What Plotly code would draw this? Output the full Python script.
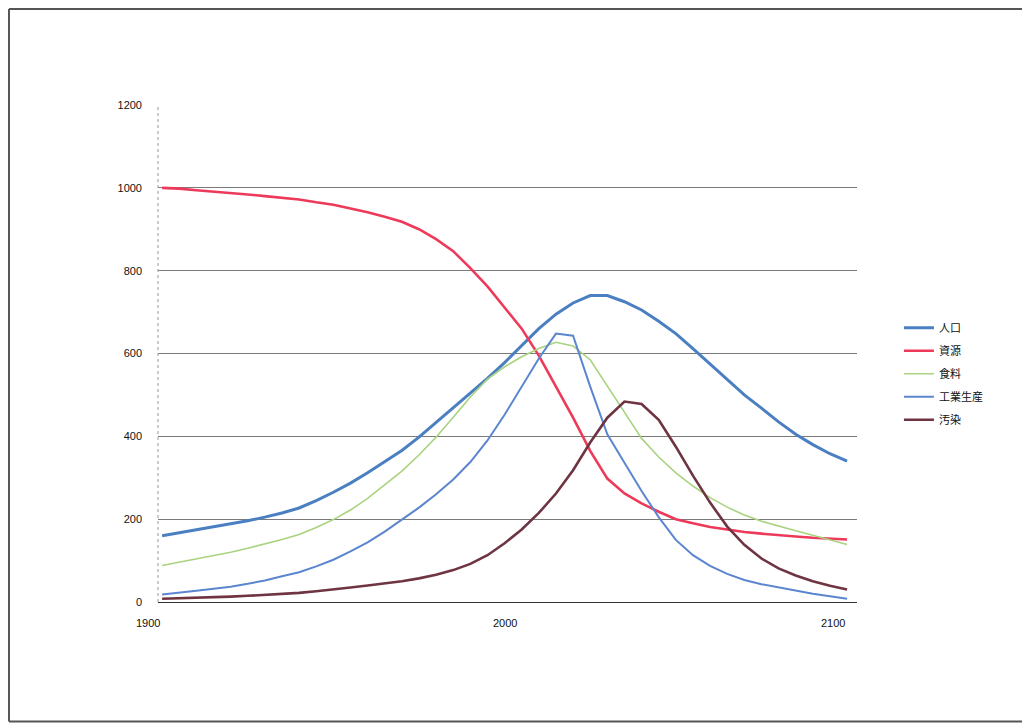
import plotly.graph_objects as go

years = list(range(1900, 2101, 5))

population = [160, 167, 174, 181, 188, 196, 205, 215, 227, 245, 265, 287, 312, 338, 366,
              398, 433, 470, 505, 540, 578, 618, 660, 695, 722, 740, 740, 725, 705, 678,
              648, 612, 575, 537, 500, 468, 435, 405, 380, 358, 340]
resources = [1000, 998, 994, 991, 988, 984, 980, 976, 972, 965, 959, 950, 941, 930, 918,
             900, 876, 847, 806, 762, 712, 660, 595, 520, 445, 365, 298, 262, 238, 218,
             200, 190, 181, 175, 169, 165, 161, 158, 155, 153, 151]
food = [88, 96, 104, 112, 120, 130, 140, 151, 163, 180, 199, 222, 250, 283, 316,
        355, 398, 446, 495, 538, 568, 592, 612, 627, 618, 585, 522, 456, 395, 350,
        312, 280, 252, 229, 210, 195, 183, 172, 161, 150, 139]
industry = [18, 22, 27, 32, 37, 44, 52, 62, 72, 86, 102, 122, 144, 170, 198,
            228, 260, 296, 338, 390, 452, 520, 588, 648, 643, 520, 405, 336, 268, 205,
            150, 113, 87, 68, 53, 43, 35, 27, 20, 14, 8]
pollution = [8, 9, 10, 11, 13, 15, 17, 19, 22, 26, 30, 35, 40, 45, 50,
             57, 66, 77, 92, 113, 142, 175, 215, 262, 318, 385, 445, 484, 478, 440,
             375, 305, 240, 182, 138, 105, 81, 64, 50, 39, 30]

series_names = ["人口", "資源", "食料", "工業生産", "汚染"]
series_values = [population, resources, food, industry, pollution]
series_colors = ["#4a7fc1", "#ee3a5a", "#a9d37f", "#5b86cf", "#6e3442"]
series_widths = [3, 2.6, 1.6, 2, 2.6]

x_tick_labels = ["1900", "2000", "2100"]
x_tick_years = [1900, 2000, 2100]
x_tick_anchor = ["right", "center", "right"]
y_ticks = [0, 200, 400, 600, 800, 1000, 1200]

fig = go.Figure()
for name, vals, col, w in zip(series_names, series_values, series_colors, series_widths):
    fig.add_trace(go.Scatter(x=years, y=vals, mode="lines", name=name,
                             legendgroup=name,
                             line=dict(color=col, width=w)))

font_main = "Liberation Sans, Arial, sans-serif"
font_cjk = "Noto Sans CJK JP, sans-serif"

fig.update_layout(
    width=1030, height=725,
    margin=dict(l=150, r=181, t=97, b=131),
    paper_bgcolor="white", plot_bgcolor="white",
    showlegend=True,
    legend=dict(x=1.060, y=0.581, xanchor="left", yanchor="top",
                font=dict(family=font_cjk, size=11, color="#111"),
                tracegroupgap=4, bgcolor="rgba(0,0,0,0)"),
    xaxis=dict(range=[1898.8, 2102.9], showgrid=False, zeroline=False,
               showticklabels=False, showline=False, fixedrange=True),
    yaxis=dict(range=[0, 1200], tickvals=y_ticks, showgrid=True,
               gridcolor="#7a7a7a", gridwidth=1, zeroline=True,
               zerolinecolor="#333", zerolinewidth=1.2,
               tickfont=dict(family=font_main, size=11, color="#111"),
               ticks="", ticklabelstandoff=15, showline=False),
)

for lab, yr, anc in zip(x_tick_labels, x_tick_years, x_tick_anchor):
    fig.add_annotation(x=yr, y=0, xref="x", yref="y", text=lab, showarrow=False,
                       xanchor=anc, yanchor="top", yshift=-13,
                       font=dict(family=font_main, size=11, color="#111"))

# dotted vertical axis line on the left
fig.add_shape(type="line", xref="paper", yref="y", x0=0, x1=0, y0=0, y1=1200,
              line=dict(color="#999", width=1, dash="dot"))
# outer frame (left, top, bottom edges; right edge lies outside the picture)
frame_line = dict(color="#555", width=2)
fx0, fx1, fy0, fy1 = -0.2132, 1.30, -0.2402, 1.1933
fig.add_shape(type="line", xref="paper", yref="paper", x0=fx0, x1=fx0, y0=fy0, y1=fy1,
              line=frame_line, layer="below")
fig.add_shape(type="line", xref="paper", yref="paper", x0=fx0, x1=fx1, y0=fy1, y1=fy1,
              line=frame_line, layer="below")
fig.add_shape(type="line", xref="paper", yref="paper", x0=fx0, x1=fx1, y0=fy0, y1=fy0,
              line=frame_line, layer="below")

fig.write_html("out.html")
